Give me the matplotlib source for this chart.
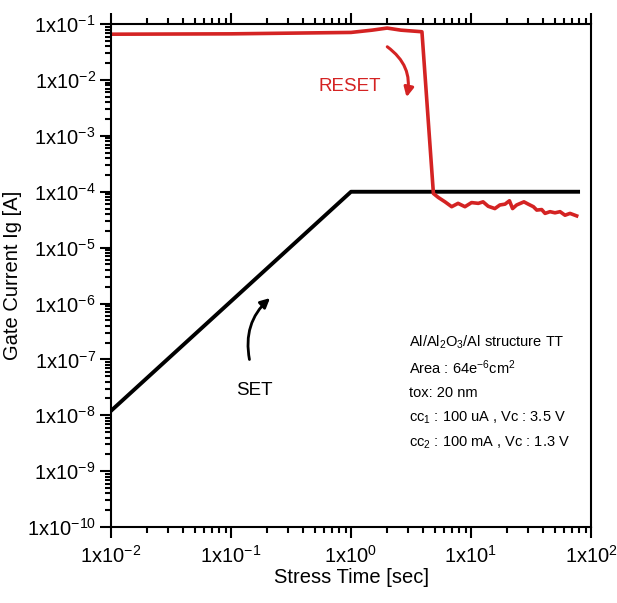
import matplotlib.pyplot as plt
import numpy as np
from matplotlib.ticker import FixedLocator, NullFormatter, LogLocator

plt.rcParams['font.family'] = ['Liberation Sans', 'DejaVu Sans']
plt.rcParams['mathtext.fontset'] = 'custom'
plt.rcParams['mathtext.rm'] = 'Liberation Sans'
plt.rcParams['mathtext.it'] = 'Liberation Sans'

# SET curve (black)
t_set = [0.01, 1.0, 78]
ig_set = [1.2e-8, 1.0e-4, 1.0e-4]

# RESET curve (red)
t_reset = [0.01, 0.1, 1.0, 1.5, 2.0, 2.6, 3.9, 4.86, 5.34, 6.07, 6.9, 7.8, 8.9, 10.1,
           11.5, 12.6, 13.9, 15.8, 17.4, 19.2, 20.9, 22.2, 24.0, 27.6, 30.0, 33.1,
           35.3, 38.8, 41.4, 45.5, 50.1, 55.2, 60.7, 66.8, 75.9]
ig_reset = [0.066, 0.067, 0.071, 0.078, 0.085, 0.078, 0.073, 9.3e-5, 7.9e-5, 6.6e-5,
            5.4e-5, 6.2e-5, 5.4e-5, 6.4e-5, 6.2e-5, 6.6e-5, 5.5e-5, 5.0e-5, 5.8e-5,
            6.0e-5, 6.9e-5, 5.0e-5, 5.8e-5, 6.6e-5, 6.0e-5, 5.4e-5, 4.7e-5, 4.8e-5,
            4.1e-5, 4.4e-5, 4.2e-5, 4.4e-5, 3.8e-5, 4.1e-5, 3.7e-5]

x_ticks = [1e-2, 1e-1, 1e0, 1e1, 1e2]
x_labels = ['1x10$^{-2}$', '1x10$^{-1}$', '1x10$^{0}$', '1x10$^{1}$', '1x10$^{2}$']
y_ticks = [10.0**k for k in range(-10, 0)]
y_labels = ['1x10$^{%d}$' % k for k in range(-10, 0)]

info = ['Al/Al$_2$O$_3$/Al structure TT',
        'Area : 64e$^{-6}$cm$^2$',
        'tox: 20 nm',
        'cc$_1$ : 100 uA , Vc : 3.5 V',
        'cc$_2$ : 100 mA , Vc : 1.3 V']

fig = plt.figure(figsize=(6.17, 6.03), dpi=100)
ax = fig.add_axes([0.1799, 0.126, 0.778, 0.834])

ax.plot(t_set, ig_set, color='black', lw=2.8)
ax.plot(t_reset, ig_reset, color='#d42323', lw=2.6)

ax.set_xscale('log')
ax.set_yscale('log')
ax.set_xlim(1e-2, 1e2)
ax.set_ylim(1e-10, 1e-1)

ax.xaxis.set_major_locator(FixedLocator(x_ticks))
ax.set_xticklabels(x_labels)
ax.yaxis.set_major_locator(FixedLocator(y_ticks))
ax.set_yticklabels(y_labels)
ax.xaxis.set_minor_locator(LogLocator(base=10, subs=np.arange(2, 10), numticks=20))
ax.yaxis.set_minor_locator(LogLocator(base=10, subs=np.arange(2, 10), numticks=20))
ax.xaxis.set_minor_formatter(NullFormatter())
ax.yaxis.set_minor_formatter(NullFormatter())

ax.tick_params(which='both', direction='out', top=True, right=False, labelsize=14.5, width=1.5)
ax.tick_params(which='major', length=8)
ax.tick_params(which='minor', length=4.5)
ax.tick_params(axis='x', pad=5)
ax.tick_params(axis='y', pad=3)
for s in ax.spines.values():
    s.set_linewidth(1.5)

ax.set_xlabel('Stress Time [sec]', fontsize=14.5, labelpad=1)
ax.set_ylabel('Gate Current Ig [A]', fontsize=14.5, labelpad=3)

# annotations
ax.text(0.98, 0.0075, 'RESET', color='#d42323', fontsize=13.5, ha='center', va='center')
ax.annotate('', xy=(2.87, 0.0044), xytext=(1.92, 0.042),
            arrowprops=dict(arrowstyle='-|>', color='#d42323', lw=2.2,
                            connectionstyle='arc3,rad=-0.35', mutation_scale=14))
ax.text(0.158, 2.8e-8, 'SET', color='black', fontsize=13.5, ha='center', va='center')
ax.annotate('', xy=(0.22, 1.35e-6), xytext=(0.144, 8.9e-8),
            arrowprops=dict(arrowstyle='-|>', color='black', lw=2.0,
                            connectionstyle='arc3,rad=-0.3', mutation_scale=14))

for i, line in enumerate(info):
    ax.text(0.62, 0.367 - i * 0.05, line, transform=ax.transAxes, fontsize=10.5,
            ha='left', va='center')

fig.savefig('out.png', dpi=100)
